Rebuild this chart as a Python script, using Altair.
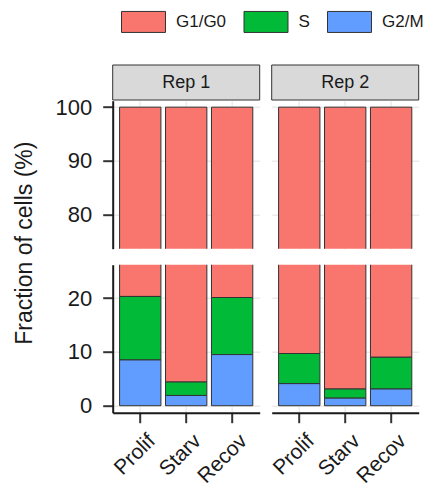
import altair as alt
import pandas as pd

categories = ["Prolif", "Starv", "Recov"]
reps = ["Rep 1", "Rep 2"]
phases = ["G1/G0", "S", "G2/M"]
stack_order = ["G2/M", "S", "G1/G0"]

g1_rep1 = [79.7, 95.6, 79.9]
s_rep1 = [11.8, 2.5, 10.6]
g2m_rep1 = [8.5, 1.9, 9.5]
g1_rep2 = [90.3, 96.9, 91.0]
s_rep2 = [5.6, 1.7, 5.9]
g2m_rep2 = [4.1, 1.4, 3.1]

colors = ["#F8766D", "#00BA38", "#619CFF"]
top_ticks = [80, 90, 100]
bottom_ticks = [0, 10, 20]
top_domain = [73.7, 101.2]
bottom_domain = [-1.3, 26.2]
y_title = "Fraction of cells (%)"

rows = []
for rep, g1, s, g2 in [("Rep 1", g1_rep1, s_rep1, g2m_rep1),
                       ("Rep 2", g1_rep2, s_rep2, g2m_rep2)]:
    for i, c in enumerate(categories):
        rows.append({"rep": rep, "condition": c, "phase": "G1/G0", "value": g1[i]})
        rows.append({"rep": rep, "condition": c, "phase": "S", "value": s[i]})
        rows.append({"rep": rep, "condition": c, "phase": "G2/M", "value": g2[i]})
df = pd.DataFrame(rows)

W, H = 147, 148
FONT = "Liberation Sans"
DARK = "#1a1a1a"
GRID = "#EBEBEB"

order_expr = "indexof([" + ",".join("'" + p + "'" for p in stack_order) + "], datum.phase)"

legend = alt.Legend(
    title=None, orient="none", legendX=19.8, legendY=-90, direction="horizontal",
    symbolType="M-2.095,-1H2.095V1H-2.095Z", symbolSize=441,
    symbolStrokeColor="#333333", symbolStrokeWidth=1, symbolOpacity=1,
    labelFontSize=17, labelFont=FONT, labelColor=DARK, labelOffset=21.5,
    columnPadding=15.5, padding=0,
)


def panel(rep, domain, ticks, show_y, show_x, strip):
    x_axis = alt.Axis(
        title=None, bandPosition=0.5, grid=True, gridColor=GRID, gridWidth=1.5,
        domain=show_x, ticks=show_x, labels=show_x,
        labelAngle=-45, labelAlign="right", labelBaseline="top",
        labelFontSize=21, labelFont=FONT, labelColor=DARK, labelPadding=7,
        labelOffset=4,
        tickSize=10, tickWidth=2, tickColor="#333333",
        domainColor=DARK, domainWidth=2,
    )
    y_kwargs = dict(
        values=ticks, grid=True, gridColor=GRID, gridWidth=1.5,
        domain=show_y, ticks=show_y, labels=show_y,
        labelFontSize=22, labelFont=FONT, labelColor=DARK, labelPadding=11,
        tickSize=10, tickWidth=2, tickColor="#333333",
        domainColor=DARK, domainWidth=2,
    )
    if show_y and strip:
        y_kwargs.update(
            title=y_title, titleFontSize=23, titleFont=FONT, titleFontWeight="normal",
            titleColor=DARK, titleAngle=270, titleAlign="center", titleBaseline="middle",
            titleX=-88.5, titleY=142,
        )
    else:
        y_kwargs.update(title=None)
    bars = alt.Chart(df).transform_filter(
        alt.datum.rep == rep
    ).transform_calculate(
        ord=order_expr
    ).mark_bar(clip=True, stroke="#333333", strokeWidth=1).encode(
        x=alt.X("condition:N", sort=categories,
                scale=alt.Scale(paddingInner=0.1, paddingOuter=0.15), axis=x_axis),
        y=alt.Y("value:Q", stack="zero",
                scale=alt.Scale(domain=domain, nice=False, zero=False),
                axis=alt.Axis(**y_kwargs)),
        color=alt.Color("phase:N", scale=alt.Scale(domain=phases, range=colors), legend=legend),
        order=alt.Order("ord:Q", sort="ascending"),
    ).properties(width=W, height=H)
    if not strip:
        return bars
    sdf = pd.DataFrame({"rep": [rep]})
    rect = alt.Chart(sdf).mark_rect(fill="#D9D9D9", stroke="#333333", strokeWidth=1).encode(
        x=alt.value(0), x2=alt.value(W), y=alt.value(-35.7), y2=alt.value(-0.7)
    )
    txt = alt.Chart(sdf).mark_text(font=FONT, fontSize=18, color=DARK, baseline="middle").encode(
        x=alt.value(W / 2), y=alt.value(-18), text="rep:N"
    )
    return alt.layer(bars, rect, txt)


t1 = panel("Rep 1", top_domain, top_ticks, True, False, True)
t2 = panel("Rep 2", top_domain, top_ticks, False, False, True)
b1 = panel("Rep 1", bottom_domain, bottom_ticks, True, True, False)
b2 = panel("Rep 2", bottom_domain, bottom_ticks, False, True, False)

chart = alt.concat(
    t1, t2, b1, b2, columns=2,
    spacing=alt.RowColnumber(row=16, column=12), bounds="flush",
).configure_view(stroke=None).properties(
    autosize=alt.AutoSizeParams(type="none"),
    padding={"left": 104.7, "top": 92.7, "right": 312.3, "bottom": 393.3},
    background="white",
)

chart.save("out.html", embed_options={"renderer": "svg", "actions": False})
